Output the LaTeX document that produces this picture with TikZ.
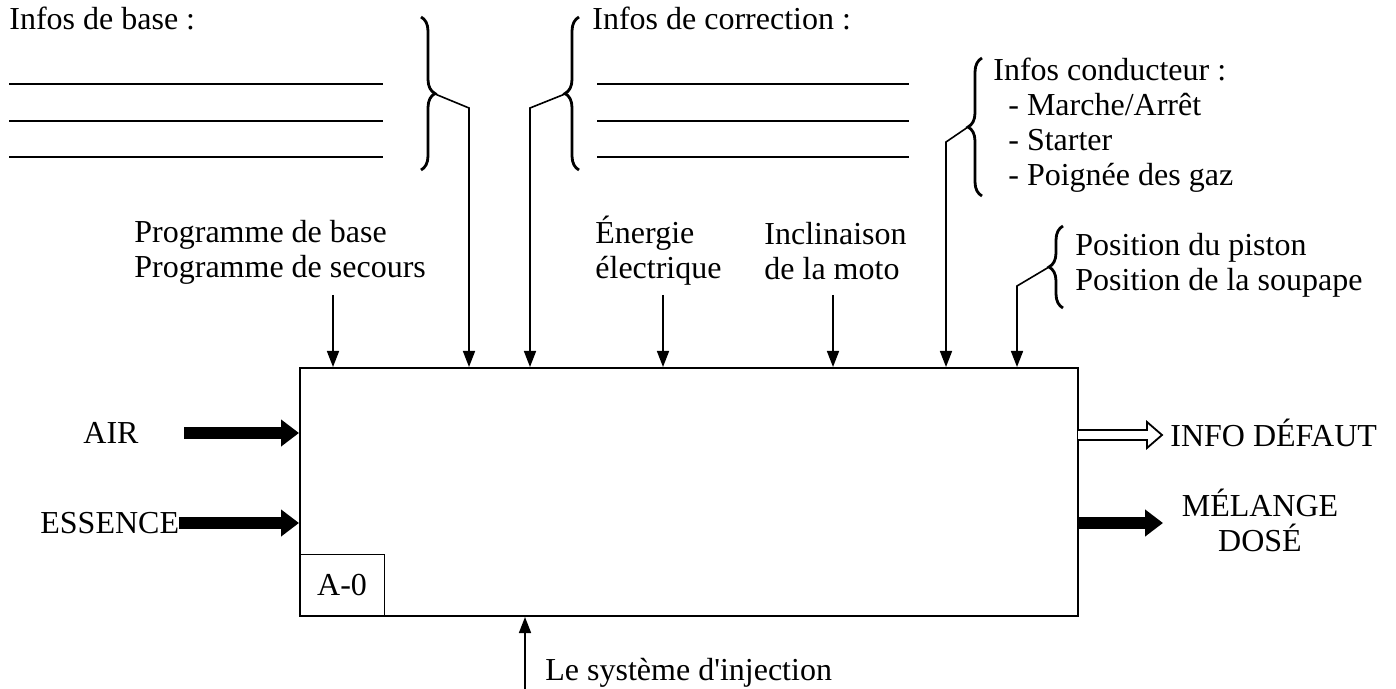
\documentclass[tikz,border=0pt]{standalone}
\usepackage{fontspec}
\setmainfont{Liberation Serif}
\usepackage{tikz}
\usetikzlibrary{arrows.meta}
\usetikzlibrary{decorations.pathreplacing}
\tikzset{
   bloc/.style={draw, line width=1pt, inner sep=0pt},
   texte/.style={inner sep=0pt, align=left, font=\fontsize{16}{17.5}\selectfont},
   ctrl/.style={line width=0.8pt, -{Triangle[length=8pt,width=6pt]}},
   flux/.style={line width=6pt, -{Triangle[length=9pt,width=13pt]}},
   accol/.style={decorate, decoration={brace, amplitude=7pt}, line width=1.4pt},
   ligne/.style={line width=0.6pt},
    }

\begin{document}
\begin{tikzpicture}[x=0.5pt, y=-0.5pt]
            \useasboundingbox (0,0) rectangle (1396,689);
            \node[bloc, minimum width=389pt, minimum height=124pt] (fct) at (689,492) {};
            \node[bloc, texte, line width=0.6pt, minimum width=42.5pt, minimum height=31pt, anchor=south west] (a0) at (fct.south west) {A-0};

            \node[texte, anchor=base west] (base) at (9,30) {Infos de base :};
            \node[texte, anchor=base west] (corr) at (592,30) {Infos de correction :};
            \foreach \y in {84,121,157} {
                \draw[ligne] (9,\y) -- (383,\y);
                \draw[ligne] (597,\y) -- (909,\y);
            }
            \node[texte, anchor=base west] (cond) at (993,186) {Infos conducteur :\\\hspace*{7.5pt}- Marche/Arrêt\\\hspace*{7.5pt}- Starter\\\hspace*{7.5pt}- Poignée des gaz};
            \node[texte, anchor=base west] (prog) at (134,278) {Programme de base\\Programme de secours};
            \node[texte, anchor=base west] (ener) at (595,279) {Énergie\\électrique};
            \node[texte, anchor=base west] (incl) at (764,280) {Inclinaison\\de la moto};
            \node[texte, anchor=base west] (pos) at (1075,291) {Position du piston\\Position de la soupape};
            \node[texte, anchor=west] (air) at (83,433) {AIR};
            \node[texte, anchor=west] (ess) at (40,523) {ESSENCE};
            \node[texte, anchor=base west] (infd) at (1170,446) {INFO DÉFAUT};
            \node[texte, align=center, anchor=base] (mel) at (1260,551) {MÉLANGE\\DOSÉ};
            \node[texte, anchor=base west] (meca) at (545,680) {Le système d\textquotesingle injection};

            \draw[accol] (421,17) -- (421,170);
            \draw[accol] (579,170) -- (579,17);
            \draw[accol] (982,196) -- (982,58);
            \draw[accol] (1063,308) -- (1063,226);

            \coordinate (t1) at (435,94);
            \coordinate (k1) at (469,108);
            \coordinate (t2) at (565,94);
            \coordinate (k2) at (530,108);
            \coordinate (t3) at (968,127);
            \coordinate (k3) at (946,142);
            \coordinate (t4) at (1049,267);
            \coordinate (k4) at (1017,286);
            \draw[ctrl] (t1) -- (k1) -- (k1 |- fct.north);
            \draw[ctrl] (t2) -- (k2) -- (k2 |- fct.north);
            \draw[ctrl] (t3) -- (k3) -- (k3 |- fct.north);
            \draw[ctrl] (t4) -- (k4) -- (k4 |- fct.north);

            \coordinate (e1) at (333,295);
            \coordinate (e2) at (663,295);
            \coordinate (e3) at (833,295);
            \coordinate (m1) at (525,689);
            \draw[ctrl] (e1) -- (e1 |- fct.north);
            \draw[ctrl] (e2) -- (e2 |- fct.north);
            \draw[ctrl] (e3) -- (e3 |- fct.north);
            \draw[ctrl] (m1) -- (m1 |- fct.south);

            \coordinate (air0) at (184,433);
            \draw[flux] (air0) -- (air0 -| fct.west);
            \draw[flux] (ess.east) -- (ess.east -| fct.west);
            \coordinate (o1) at (1078,435);
            \draw[line width=0.9pt, fill=white] ([yshift=2.5pt]o1) -- ++(69,0) -- ++(0,-8) -- ++(15,13) -- ++(-15,13) -- ++(0,-8) -- ++(-69,0);
            \coordinate (o2) at (1163,523);
            \draw[flux] (o2 -| fct.east) -- (o2);

        \end{tikzpicture}
\end{document}
